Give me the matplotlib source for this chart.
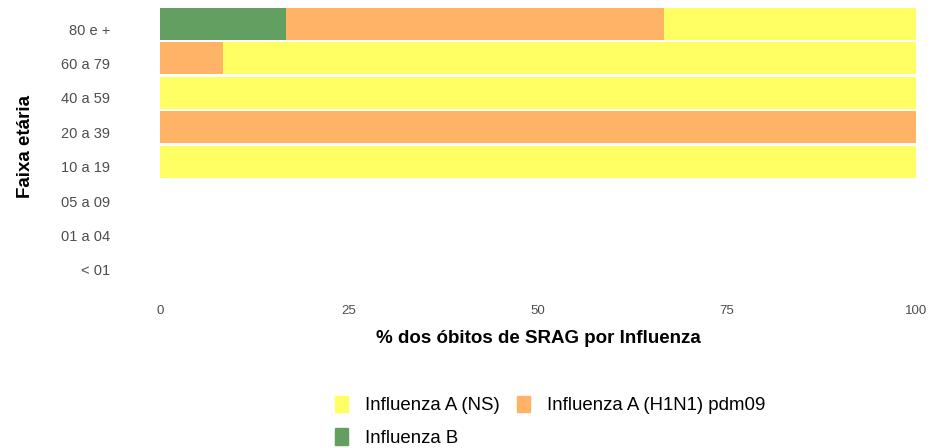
import numpy as np
import matplotlib
matplotlib.use("Agg")
import matplotlib.pyplot as plt
from matplotlib.patches import Patch
from matplotlib.transforms import ScaledTranslation

plt.rcParams['font.family'] = ['Liberation Sans', 'DejaVu Sans']

# age groups, bottom to top
faixas = ["< 01", "01 a 04", "05 a 09", "10 a 19", "20 a 39", "40 a 59", "60 a 79", "80 e +"]
flu_b = [0, 0, 0, 0, 0, 0, 0, 16.67]
flu_h1n1 = [0, 0, 0, 0, 100, 0, 8.33, 50.0]
flu_ns = [0, 0, 0, 100, 0, 100, 91.67, 33.33]

series_names = ["Influenza A (NS)", "Influenza A (H1N1) pdm09", "Influenza B"]
cores = {"Influenza A (NS)": "#FFFF63",
         "Influenza A (H1N1) pdm09": "#FFB366",
         "Influenza B": "#649F62"}

fig = plt.figure(figsize=(9.46, 4.48), dpi=100)
W, H = 946.0, 448.0
ax = fig.add_axes([160 / W, 1 - 285.5 / H, 756 / W, 282.1 / H])

y = np.arange(len(faixas))
left = np.zeros(len(faixas))
for name, vals in [("Influenza B", flu_b), ("Influenza A (H1N1) pdm09", flu_h1n1), ("Influenza A (NS)", flu_ns)]:
    vals = np.array(vals)
    ax.barh(y, vals, left=left, height=0.93, color=cores[name], edgecolor='none')
    left = left + vals

ax.set_xlim(0, 100)
ax.set_ylim(-0.6, 7.6)
ax.set_xticks([0, 25, 50, 75, 100])
ax.set_xticklabels(["0", "25", "50", "75", "100"])
ax.set_yticks(y)
ax.set_yticklabels(faixas)
ax.tick_params(axis='x', length=0, labelsize=9.5, labelcolor='#4D4D4D', pad=14)
ax.tick_params(axis='y', length=0, labelsize=10.5, labelcolor='#4D4D4D', pad=36)
# labels sit a little below the bar centres in the original
off = ScaledTranslation(0, -0.05, fig.dpi_scale_trans)
for lab in ax.get_yticklabels():
    lab.set_transform(lab.get_transform() + off)
for s in ax.spines.values():
    s.set_visible(False)

fig.text(25 / W, 1 - 147 / H, "Faixa etária", rotation=90, ha='center', va='center',
         fontsize=13.5, fontweight='bold')
fig.text(538 / W, 1 - 338 / H, "% dos óbitos de SRAG por Influenza", ha='center', va='center',
         fontsize=13.5, fontweight='bold')

handles = [Patch(color=cores[n], label=n) for n in series_names]
order = [0, 2, 1]
fig.legend([handles[i] for i in order], [series_names[i] for i in order],
           ncol=2, loc='upper left', bbox_to_anchor=(318 / W, 1 - 379 / H),
           frameon=False, fontsize=13.4, handlelength=0.7, handleheight=1.0,
           handletextpad=0.9, columnspacing=0.95, labelspacing=0.72)

fig.savefig("out.png", dpi=100)
